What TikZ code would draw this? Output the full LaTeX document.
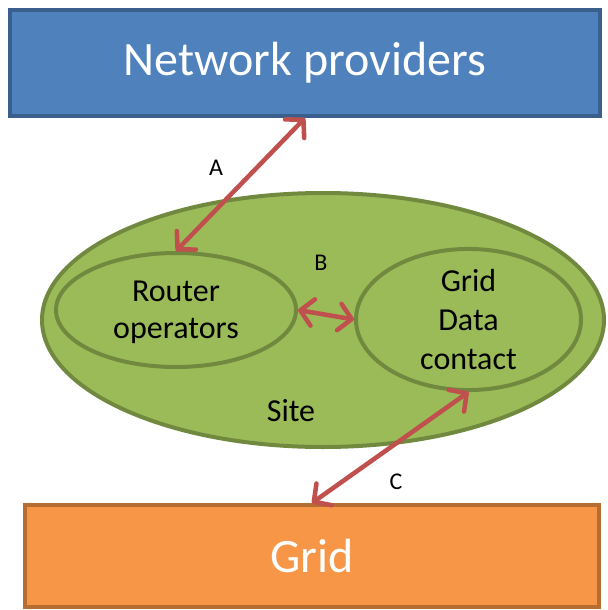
\documentclass[tikz,border=0pt]{standalone}
\usepackage{fontspec}
\setmainfont{Carlito}
\usetikzlibrary{shapes.geometric,arrows.meta}

\definecolor{provfill}{HTML}{4F81BD}
\definecolor{provline}{HTML}{3A5F8D}
\definecolor{gridfill}{HTML}{F79646}
\definecolor{gridline}{HTML}{B66D31}
\definecolor{sitefill}{HTML}{9BBB59}
\definecolor{siteline}{HTML}{71893F}
\definecolor{linkred}{HTML}{C0504D}

\tikzset{
  bigbox/.style={rectangle, line width=3pt, text=white, inner sep=0pt,
    font=\fontsize{36}{43}\selectfont},
  oval/.style={ellipse, draw=siteline, fill=sitefill, line width=3pt,
    inner sep=0pt, align=center, font=\fontsize{24}{27.5}\selectfont},
  link/.style={draw=linkred, line width=3.4pt,
    {Straight Barb[length=9.5pt,width=20pt,line cap=round,line join=round]}-{Straight Barb[length=9.5pt,width=20pt,line cap=round,line join=round]}},
  tag/.style={font=\fontsize{18}{21}\selectfont}
}

\begin{document}
\begin{tikzpicture}[x=0.75pt,y=-0.75pt]
    \useasboundingbox (0,0) rectangle (607,610);
    \node[bigbox, draw=provline, fill=provfill, minimum width=442.5pt, minimum height=79.5pt] (prov) at (305,63) {Network providers};
    \node[bigbox, draw=gridline, fill=gridfill, minimum width=430.5pt, minimum height=76.5pt] (grid) at (312,556) {Grid};
    \node[oval, minimum width=421.5pt, minimum height=190.5pt] (site) at (323,320) {};
    \node[oval, minimum width=180pt, minimum height=85.5pt, text depth=0pt] (router) at (176,310) {Router\\operators};
    \node[oval, minimum width=168.75pt, minimum height=99.75pt, font=\fontsize{24}{29}\selectfont] (data) at (468.5,319.5) {Grid\\Data\\contact};
    \node[font=\fontsize{24}{29}\selectfont] (sitelbl) at (291,411) {Site};
    \draw[link] (router.north) -- (prov.south);
    \draw[link] (router.east) -- (data.west);
    \draw[link] (data.south) -- (grid.north);
    \node[tag] (tagA) at (216,168) {A};
    \node[tag] (tagB) at (321,263) {B};
    \node[tag] (tagC) at (396,482) {C};
\end{tikzpicture}
\end{document}
